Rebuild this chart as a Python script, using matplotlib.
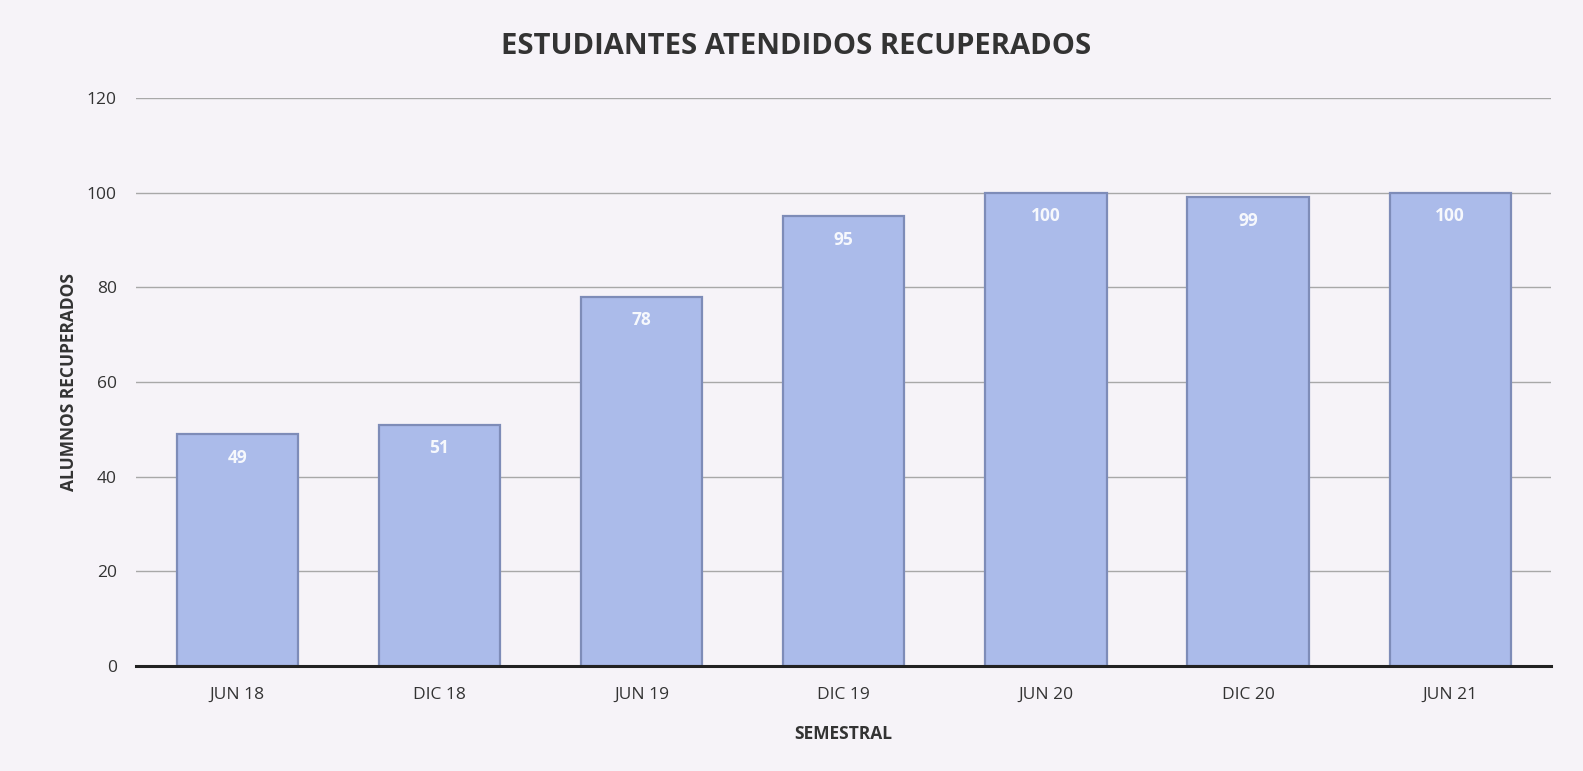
import matplotlib.pyplot as plt
import numpy as np

plt.rcParams['font.family'] = ['Open Sans', 'DejaVu Sans']

semestres = ['JUN 18', 'DIC 18', 'JUN 19', 'DIC 19', 'JUN 20', 'DIC 20', 'JUN 21']
recuperados = [49, 51, 78, 95, 100, 99, 100]
y_ticks = [0, 20, 40, 60, 80, 100, 120]

fig = plt.figure(figsize=(15.83, 7.71), dpi=100, facecolor='#f6f3f8')
ax = fig.add_axes([0.086, 0.136, 0.894, 0.737])
ax.set_facecolor('none')

x = np.arange(len(semestres))
bars = ax.bar(x, recuperados, width=0.6, color='#abbbea',
              edgecolor='#7e8cb8', linewidth=1.6, zorder=3)

# value labels inside the top of each bar
for b, v in zip(bars, recuperados):
    ax.text(b.get_x() + b.get_width() / 2, v - 5, str(v),
            ha='center', va='center', color='white', fontsize=12.5,
            fontweight='bold', alpha=0.9, zorder=4)

ax.set_xlim(-0.5, len(semestres) - 0.5)
ax.set_ylim(0, 120)
ax.set_yticks(y_ticks)
ax.set_xticks(x)
ax.set_xticklabels(semestres)
ax.tick_params(axis='both', length=0, labelsize=12.5, colors='#333333')
ax.tick_params(axis='y', pad=14)
ax.tick_params(axis='x', pad=15)

ax.yaxis.grid(True, color='#a8a8a8', linewidth=1, zorder=0)
for s in ['top', 'right', 'left']:
    ax.spines[s].set_visible(False)
ax.spines['bottom'].set_linewidth(2.2)
ax.spines['bottom'].set_color('#222222')
ax.spines['bottom'].set_zorder(5)

fig.text(0.503, 0.94, 'ESTUDIANTES ATENDIDOS RECUPERADOS', fontsize=21,
         fontweight='bold', color='#333333', ha='center', va='center')
ax.set_xlabel('SEMESTRAL', fontsize=12.5, fontweight='bold', color='#333333', labelpad=16)
ax.set_ylabel('ALUMNOS RECUPERADOS', fontsize=12.5, fontweight='bold', color='#333333', labelpad=6)

fig.savefig('out.png', dpi=100, facecolor=fig.get_facecolor())
